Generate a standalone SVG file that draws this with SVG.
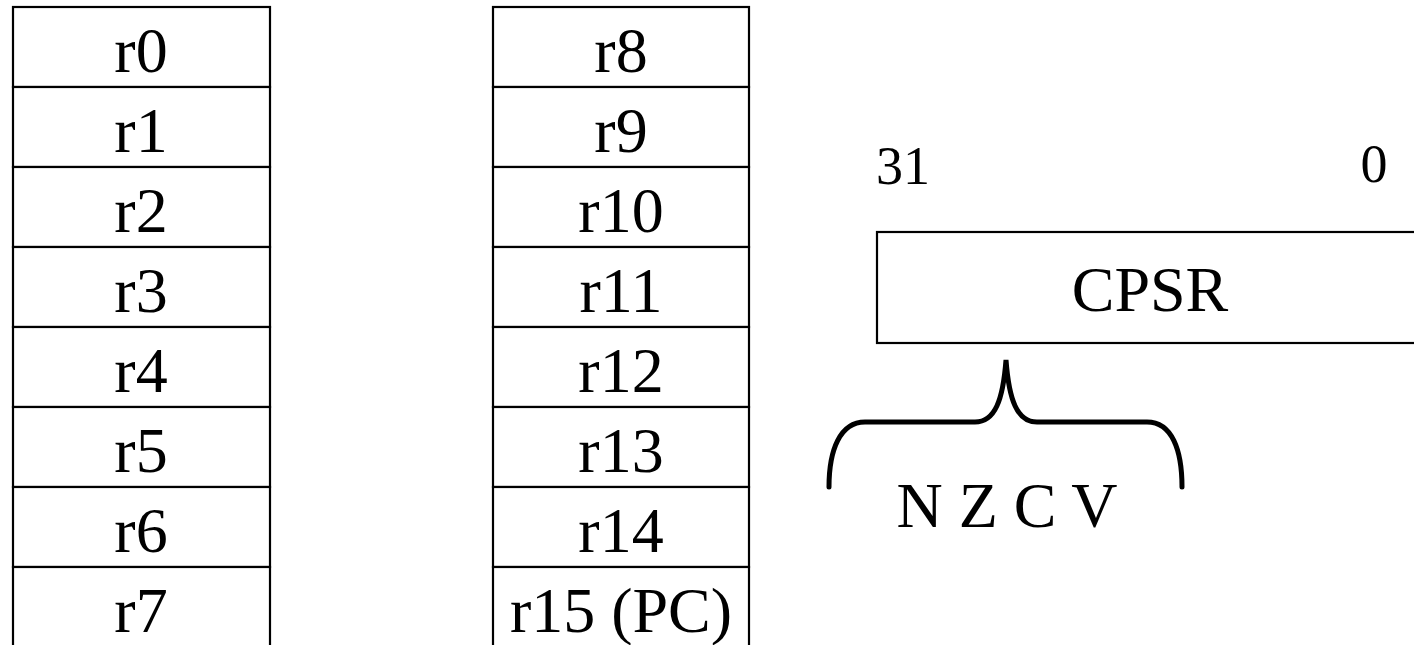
<svg xmlns="http://www.w3.org/2000/svg" width="1414" height="645" viewBox="0 0 1414 645">
<style>
.cell{fill:#fff;stroke:#000;stroke-width:2.2}
.t{font-family:"Liberation Serif","Times New Roman",serif;fill:#000;text-anchor:middle}
.big{font-size:64px}
.small{font-size:54px}
.brace{fill:none;stroke:#000;stroke-width:5;stroke-linecap:round}
</style>
<rect width="1414" height="645" fill="#fff"/>
<g id="bank-low">
<g id="r0"><rect class="cell" x="13" y="7" width="257" height="80"/><text class="t big" x="141" y="72">r0</text></g>
<g id="r1"><rect class="cell" x="13" y="87" width="257" height="80"/><text class="t big" x="141" y="152">r1</text></g>
<g id="r2"><rect class="cell" x="13" y="167" width="257" height="80"/><text class="t big" x="141" y="232">r2</text></g>
<g id="r3"><rect class="cell" x="13" y="247" width="257" height="80"/><text class="t big" x="141" y="312">r3</text></g>
<g id="r4"><rect class="cell" x="13" y="327" width="257" height="80"/><text class="t big" x="141" y="392">r4</text></g>
<g id="r5"><rect class="cell" x="13" y="407" width="257" height="80"/><text class="t big" x="141" y="472">r5</text></g>
<g id="r6"><rect class="cell" x="13" y="487" width="257" height="80"/><text class="t big" x="141" y="552">r6</text></g>
<g id="r7"><rect class="cell" x="13" y="567" width="257" height="80"/><text class="t big" x="141" y="632">r7</text></g>
</g>
<g id="bank-high">
<g id="r8"><rect class="cell" x="493" y="7" width="256" height="80"/><text class="t big" x="621" y="72">r8</text></g>
<g id="r9"><rect class="cell" x="493" y="87" width="256" height="80"/><text class="t big" x="621" y="152">r9</text></g>
<g id="r10"><rect class="cell" x="493" y="167" width="256" height="80"/><text class="t big" x="621" y="232">r10</text></g>
<g id="r11"><rect class="cell" x="493" y="247" width="256" height="80"/><text class="t big" x="621" y="312">r11</text></g>
<g id="r12"><rect class="cell" x="493" y="327" width="256" height="80"/><text class="t big" x="621" y="392">r12</text></g>
<g id="r13"><rect class="cell" x="493" y="407" width="256" height="80"/><text class="t big" x="621" y="472">r13</text></g>
<g id="r14"><rect class="cell" x="493" y="487" width="256" height="80"/><text class="t big" x="621" y="552">r14</text></g>
<g id="r15"><rect class="cell" x="493" y="567" width="256" height="80"/><text class="t big" x="621" y="632">r15 (PC)</text></g>
</g>
<g id="cpsr">
<text class="t small" x="903" y="184">31</text>
<text class="t small" x="1374" y="182">0</text>
<rect class="cell" x="877" y="232" width="560" height="111"/>
<text class="t big" x="1150" y="311">CPSR</text>
</g>
<g id="connectors">
<path class="brace" d="M829,487 C829,450 840,422 865,422 L975,422 C995,422 1003,400 1006,360 C1009,400 1017,422 1037,422 L1147,422 C1172,422 1182,450 1182,487"/>
</g>
<g id="flags">
<text class="t big" x="1007" y="527">N Z C V</text>
</g>
</svg>
